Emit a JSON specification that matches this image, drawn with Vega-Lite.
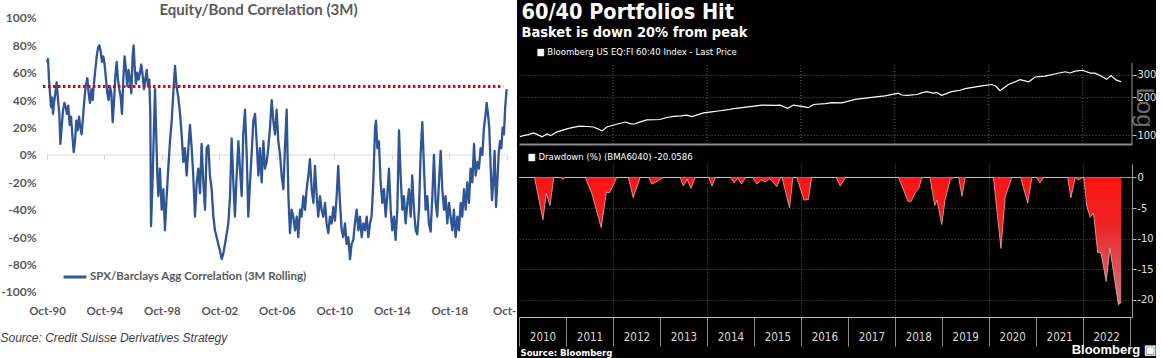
{
  "$schema": "https://vega.github.io/schema/vega-lite/v6.json",
  "background": "black",
  "padding": 0,
  "spacing": 0,
  "title": {"text": "Bloomberg ▣", "orient": "bottom", "anchor": "end", "offset": -14, "font": "Liberation Sans", "fontSize": 13, "fontWeight": "bold", "color": "white"},
  "config": {"view": {"stroke": null}, "axis": {"labelFlush": false, "labelOverlap": false}},
  "resolve": {"scale": {"color": "independent"}, "legend": {"color": "independent"}},
  "hconcat": [
    {
      "width": 517,
      "height": 358,
      "view": {"fill": "white", "stroke": null},
      "title": {"text": "Equity/Bond Correlation (3M)", "anchor": "middle", "offset": -18, "font": "Lato", "fontSize": 15, "fontWeight": "bold", "color": "#595959"},
      "resolve": {"axis": {"x": "independent", "y": "independent"}},
      "layer": [
        {
          "data": {"values": [{}]},
          "mark": {"type": "rule", "color": "#d9d9d9", "strokeWidth": 1},
          "encoding": {
            "x": {"datum": 1990.75, "type": "quantitative", "scale": {"domain": [1987.48, 2023.46], "nice": false, "zero": false},
              "axis": {"orient": "bottom", "offset": -203, "values": [1990.75, 1994.75, 1998.75, 2002.75, 2006.75, 2010.75, 2014.75, 2018.75, 2022.75], "domain": false, "ticks": true, "tickSize": 4, "tickColor": "#d0d0d0", "labels": false, "grid": false, "title": null}},
            "x2": {"datum": 2022.75},
            "y": {"datum": 0, "type": "quantitative", "scale": {"domain": [-1.482, 1.131], "nice": false, "zero": false},
              "axis": {"orient": "left", "offset": -40, "values": [-0.8, -0.4, 0, 0.4, 0.8], "domain": false, "ticks": false, "grid": false, "labelOverlap": false, "labelExpr": "toString(round(datum.value*100)) + '%'", "labelFont": "Lato", "labelFontSize": 12, "labelFontWeight": "bold", "labelColor": "#595959", "labelPadding": 4, "title": null}}
          }
        },
        {
          "data": {"values": [
            {"t":1990.75,"v":0.68},{"t":1990.82,"v":0.70},{"t":1990.89,"v":0.55},{"t":1990.96,"v":0.45},{"t":1991.03,"v":0.35},{"t":1991.10,"v":0.42},{"t":1991.17,"v":0.30},{"t":1991.24,"v":0.38},{"t":1991.33,"v":0.45},{"t":1991.42,"v":0.53},
            {"t":1991.52,"v":0.40},{"t":1991.61,"v":0.30},{"t":1991.68,"v":0.08},{"t":1991.77,"v":0.20},{"t":1991.86,"v":0.32},{"t":1991.96,"v":0.38},{"t":1992.05,"v":0.35},{"t":1992.14,"v":0.30},{"t":1992.23,"v":0.36},{"t":1992.33,"v":0.22},
            {"t":1992.42,"v":0.28},{"t":1992.51,"v":0.15},{"t":1992.61,"v":0.02},{"t":1992.70,"v":0.10},{"t":1992.79,"v":0.25},{"t":1992.88,"v":0.18},{"t":1992.98,"v":0.28},{"t":1993.07,"v":0.20},{"t":1993.16,"v":0.15},{"t":1993.26,"v":0.28},
            {"t":1993.35,"v":0.40},{"t":1993.44,"v":0.50},{"t":1993.56,"v":0.56},{"t":1993.65,"v":0.45},{"t":1993.74,"v":0.38},{"t":1993.84,"v":0.48},{"t":1993.93,"v":0.40},{"t":1994.02,"v":0.52},{"t":1994.11,"v":0.62},{"t":1994.21,"v":0.72},
            {"t":1994.30,"v":0.78},{"t":1994.39,"v":0.80},{"t":1994.48,"v":0.76},{"t":1994.58,"v":0.68},{"t":1994.67,"v":0.72},{"t":1994.76,"v":0.66},{"t":1994.86,"v":0.55},{"t":1994.95,"v":0.45},{"t":1995.04,"v":0.40},{"t":1995.13,"v":0.50},
            {"t":1995.23,"v":0.45},{"t":1995.32,"v":0.24},{"t":1995.41,"v":0.38},{"t":1995.51,"v":0.58},{"t":1995.60,"v":0.68},{"t":1995.69,"v":0.55},{"t":1995.78,"v":0.48},{"t":1995.88,"v":0.42},{"t":1995.97,"v":0.30},{"t":1996.06,"v":0.55},
            {"t":1996.15,"v":0.72},{"t":1996.25,"v":0.62},{"t":1996.34,"v":0.50},{"t":1996.43,"v":0.62},{"t":1996.53,"v":0.55},{"t":1996.62,"v":0.45},{"t":1996.71,"v":0.72},{"t":1996.78,"v":0.80},{"t":1996.85,"v":0.65},{"t":1996.94,"v":0.52},
            {"t":1997.04,"v":0.60},{"t":1997.13,"v":0.55},{"t":1997.22,"v":0.60},{"t":1997.31,"v":0.66},{"t":1997.41,"v":0.58},{"t":1997.50,"v":0.48},{"t":1997.59,"v":0.55},{"t":1997.69,"v":0.62},{"t":1997.78,"v":0.50},{"t":1997.87,"v":0.55},
            {"t":1997.94,"v":0.30},{"t":1997.99,"v":-0.52},{"t":1998.08,"v":-0.25},{"t":1998.17,"v":0.10},{"t":1998.27,"v":0.48},{"t":1998.34,"v":0.20},{"t":1998.43,"v":-0.15},{"t":1998.50,"v":-0.30},{"t":1998.61,"v":-0.10},{"t":1998.73,"v":-0.40},
            {"t":1998.85,"v":-0.25},{"t":1998.96,"v":-0.55},{"t":1999.08,"v":-0.30},{"t":1999.19,"v":-0.10},{"t":1999.31,"v":0.10},{"t":1999.43,"v":0.25},{"t":1999.54,"v":0.45},{"t":1999.66,"v":0.65},{"t":1999.77,"v":0.50},{"t":1999.89,"v":0.42},
            {"t":2000.01,"v":0.30},{"t":2000.12,"v":0.15},{"t":2000.24,"v":-0.05},{"t":2000.35,"v":0.05},{"t":2000.47,"v":-0.15},{"t":2000.59,"v":0.05},{"t":2000.70,"v":0.22},{"t":2000.82,"v":0.05},{"t":2000.93,"v":-0.15},{"t":2001.05,"v":-0.45},
            {"t":2001.17,"v":-0.20},{"t":2001.28,"v":-0.10},{"t":2001.40,"v":-0.28},{"t":2001.51,"v":0.08},{"t":2001.63,"v":-0.20},{"t":2001.75,"v":-0.40},{"t":2001.86,"v":0.05},{"t":2001.98,"v":0.07},{"t":2002.09,"v":-0.15},{"t":2002.21,"v":-0.25},
            {"t":2002.33,"v":-0.45},{"t":2002.44,"v":-0.55},{"t":2002.56,"v":-0.60},{"t":2002.67,"v":-0.65},{"t":2002.79,"v":-0.70},{"t":2002.91,"v":-0.76},{"t":2003.02,"v":-0.72},{"t":2003.14,"v":-0.65},{"t":2003.25,"v":-0.58},{"t":2003.37,"v":-0.50},
            {"t":2003.49,"v":-0.30},{"t":2003.60,"v":0.12},{"t":2003.72,"v":-0.20},{"t":2003.83,"v":-0.45},{"t":2003.95,"v":-0.15},{"t":2004.07,"v":0.10},{"t":2004.18,"v":-0.10},{"t":2004.30,"v":-0.30},{"t":2004.41,"v":0.15},{"t":2004.53,"v":0.33},
            {"t":2004.65,"v":0.00},{"t":2004.76,"v":-0.45},{"t":2004.88,"v":-0.20},{"t":2004.99,"v":0.00},{"t":2005.11,"v":0.25},{"t":2005.23,"v":0.30},{"t":2005.34,"v":0.10},{"t":2005.46,"v":-0.15},{"t":2005.57,"v":0.05},{"t":2005.69,"v":-0.20},
            {"t":2005.81,"v":0.10},{"t":2005.92,"v":-0.10},{"t":2006.04,"v":-0.05},{"t":2006.15,"v":0.05},{"t":2006.27,"v":0.20},{"t":2006.39,"v":0.40},{"t":2006.50,"v":0.25},{"t":2006.62,"v":0.15},{"t":2006.73,"v":0.33},{"t":2006.85,"v":0.10},
            {"t":2006.97,"v":0.00},{"t":2007.08,"v":-0.15},{"t":2007.20,"v":-0.25},{"t":2007.31,"v":0.05},{"t":2007.43,"v":0.33},{"t":2007.55,"v":-0.30},{"t":2007.66,"v":-0.57},{"t":2007.78,"v":-0.40},{"t":2007.89,"v":-0.45},{"t":2008.01,"v":-0.55},
            {"t":2008.13,"v":-0.45},{"t":2008.24,"v":-0.60},{"t":2008.36,"v":-0.40},{"t":2008.47,"v":-0.45},{"t":2008.59,"v":-0.30},{"t":2008.71,"v":-0.40},{"t":2008.82,"v":-0.25},{"t":2008.94,"v":-0.15},{"t":2009.05,"v":-0.03},{"t":2009.17,"v":-0.25},
            {"t":2009.29,"v":-0.35},{"t":2009.40,"v":-0.08},{"t":2009.52,"v":-0.30},{"t":2009.63,"v":-0.45},{"t":2009.75,"v":-0.30},{"t":2009.86,"v":-0.40},{"t":2009.98,"v":-0.45},{"t":2010.10,"v":-0.35},{"t":2010.21,"v":-0.50},{"t":2010.33,"v":-0.57},
            {"t":2010.44,"v":-0.45},{"t":2010.56,"v":-0.50},{"t":2010.68,"v":-0.38},{"t":2010.79,"v":-0.48},{"t":2010.91,"v":-0.30},{"t":2011.02,"v":-0.08},{"t":2011.14,"v":-0.35},{"t":2011.26,"v":-0.55},{"t":2011.37,"v":-0.60},{"t":2011.49,"v":-0.50},
            {"t":2011.60,"v":-0.65},{"t":2011.72,"v":-0.60},{"t":2011.84,"v":-0.76},{"t":2011.95,"v":-0.65},{"t":2012.07,"v":-0.62},{"t":2012.18,"v":-0.50},{"t":2012.30,"v":-0.40},{"t":2012.42,"v":-0.55},{"t":2012.53,"v":-0.45},{"t":2012.65,"v":-0.60},
            {"t":2012.76,"v":-0.50},{"t":2012.88,"v":-0.55},{"t":2013.00,"v":-0.45},{"t":2013.11,"v":-0.60},{"t":2013.23,"v":-0.50},{"t":2013.34,"v":-0.45},{"t":2013.46,"v":-0.20},{"t":2013.58,"v":0.20},{"t":2013.65,"v":0.25},{"t":2013.74,"v":0.05},
            {"t":2013.85,"v":0.10},{"t":2013.97,"v":-0.20},{"t":2014.09,"v":-0.35},{"t":2014.20,"v":-0.25},{"t":2014.32,"v":-0.45},{"t":2014.43,"v":-0.30},{"t":2014.55,"v":-0.10},{"t":2014.67,"v":-0.40},{"t":2014.78,"v":-0.55},{"t":2014.90,"v":-0.45},
            {"t":2015.01,"v":-0.62},{"t":2015.13,"v":-0.40},{"t":2015.25,"v":0.18},{"t":2015.36,"v":-0.15},{"t":2015.48,"v":-0.40},{"t":2015.59,"v":-0.30},{"t":2015.71,"v":-0.50},{"t":2015.83,"v":-0.35},{"t":2015.94,"v":-0.25},{"t":2016.06,"v":-0.45},
            {"t":2016.17,"v":-0.15},{"t":2016.29,"v":-0.40},{"t":2016.41,"v":-0.55},{"t":2016.52,"v":-0.58},{"t":2016.64,"v":-0.40},{"t":2016.75,"v":0.00},{"t":2016.87,"v":0.24},{"t":2016.99,"v":-0.10},{"t":2017.10,"v":-0.40},{"t":2017.22,"v":-0.30},
            {"t":2017.33,"v":-0.50},{"t":2017.45,"v":-0.56},{"t":2017.57,"v":-0.30},{"t":2017.68,"v":0.00},{"t":2017.80,"v":-0.35},{"t":2017.91,"v":-0.45},{"t":2018.03,"v":-0.20},{"t":2018.15,"v":0.03},{"t":2018.26,"v":-0.25},{"t":2018.38,"v":-0.40},
            {"t":2018.49,"v":-0.30},{"t":2018.61,"v":-0.50},{"t":2018.73,"v":-0.35},{"t":2018.84,"v":-0.45},{"t":2018.96,"v":-0.55},{"t":2019.07,"v":-0.40},{"t":2019.19,"v":-0.60},{"t":2019.31,"v":-0.45},{"t":2019.42,"v":-0.55},{"t":2019.54,"v":-0.35},
            {"t":2019.65,"v":-0.45},{"t":2019.77,"v":-0.25},{"t":2019.89,"v":-0.40},{"t":2020.00,"v":-0.20},{"t":2020.12,"v":-0.35},{"t":2020.23,"v":-0.10},{"t":2020.35,"v":-0.20},{"t":2020.47,"v":0.08},{"t":2020.58,"v":-0.15},{"t":2020.70,"v":-0.05},
            {"t":2020.81,"v":-0.10},{"t":2020.93,"v":0.05},{"t":2021.05,"v":0.00},{"t":2021.16,"v":0.20},{"t":2021.28,"v":0.30},{"t":2021.35,"v":0.38},{"t":2021.44,"v":0.30},{"t":2021.53,"v":0.20},{"t":2021.63,"v":-0.10},{"t":2021.72,"v":-0.33},
            {"t":2021.81,"v":-0.20},{"t":2021.90,"v":0.03},{"t":2022.00,"v":-0.38},{"t":2022.09,"v":-0.20},{"t":2022.18,"v":0.00},{"t":2022.27,"v":0.10},{"t":2022.37,"v":0.05},{"t":2022.46,"v":0.20},{"t":2022.55,"v":0.15},{"t":2022.64,"v":0.35},
            {"t":2022.74,"v":0.48}
          ]},
          "mark": {"type": "line", "strokeWidth": 2.3, "strokeJoin": "round"},
          "encoding": {
            "x": {"field": "t", "type": "quantitative", "scale": {"domain": [1987.48, 2023.46], "nice": false, "zero": false},
              "axis": {"orient": "bottom", "offset": -58, "values": [1990.75, 1994.75, 1998.75, 2002.75, 2006.75, 2010.75, 2014.75, 2018.75, 2022.75], "domain": false, "ticks": false, "grid": false, "labelOverlap": false, "labelFlush": false,
                "labelExpr": "datum.value > 2022 ? 'Oct-' : 'Oct-' + slice(toString(floor(datum.value)), 2)",
                "labelAlign": {"condition": {"test": "datum.value > 2022", "value": "right"}, "value": "center"},
                "labelOffset": {"condition": {"test": "datum.value > 2022", "value": 9}, "value": 0},
                "labelFont": "Lato", "labelFontSize": 11.5, "labelFontWeight": "bold", "labelColor": "#595959", "labelPadding": 5,
                "title": "Source: Credit Suisse Derivatives Strategy", "titleFont": "Liberation Sans", "titleFontStyle": "italic", "titleFontWeight": "normal", "titleFontSize": 12, "titleColor": "#404040", "titleAnchor": "start", "titleAlign": "left", "titleX": 0, "titleY": 41, "titleBaseline": "alphabetic"}},
            "y": {"field": "v", "type": "quantitative", "scale": {"domain": [-1.482, 1.131], "nice": false, "zero": false},
              "axis": {"orient": "left", "offset": -40, "values": [-1, -0.6, -0.2, 0.2, 0.6, 1], "domain": false, "ticks": false, "grid": false, "labelOverlap": false, "labelExpr": "toString(round(datum.value*100)) + '%'", "labelFont": "Lato", "labelFontSize": 12, "labelFontWeight": "bold", "labelColor": "#595959", "labelPadding": 4, "title": null}},
            "color": {"datum": "SPX/Barclays Agg Correlation (3M Rolling)", "type": "nominal", "scale": {"range": ["#2F5597"]},
              "legend": {"orient": "none", "legendX": 62, "legendY": 264, "title": null, "symbolType": "stroke", "symbolStrokeWidth": 3, "symbolSize": 520, "labelFont": "Lato", "labelFontSize": 11.5, "labelFontWeight": "bold", "labelColor": "#595959", "labelOffset": 2, "labelLimit": 400, "padding": 0}}
          }
        },
        {
          "data": {"values": [{}]},
          "mark": {"type": "rule", "color": "#e30000", "strokeWidth": 3, "strokeDash": [2.5, 2.5]},
          "encoding": {
            "x": {"datum": 1990.47, "type": "quantitative", "scale": {"domain": [1987.48, 2023.46], "nice": false, "zero": false}, "axis": null},
            "x2": {"datum": 2022.5},
            "y": {"datum": 0.5, "type": "quantitative", "scale": {"domain": [-1.482, 1.131], "nice": false, "zero": false}, "axis": null}
          }
        }
      ]
    },
    {
      "spacing": 6,
      "vconcat": [
        {
          "width": 613,
          "height": 144,
          "title": {"text": "60/40 Portfolios Hit", "subtitle": "Basket is down 20% from peak", "anchor": "start", "dx": 4, "offset": -39, "font": "DejaVu Sans Condensed", "fontSize": 21.5, "fontWeight": "bold", "color": "white", "subtitleFont": "DejaVu Sans Condensed", "subtitleFontSize": 14.5, "subtitleFontWeight": "bold", "subtitleColor": "white", "subtitlePadding": 2},
          "layer": [
            {
              "data": {"values": [{"t": 2012}, {"t": 2014}, {"t": 2016}, {"t": 2018}, {"t": 2020}, {"t": 2022}]},
              "mark": {"type": "rule", "color": "#5c5c5c", "strokeWidth": 1, "strokeDash": [1, 2]},
              "encoding": {
                "x": {"field": "t", "type": "quantitative", "scale": {"domain": [2010, 2023.05], "nice": false, "zero": false}},
                "y": {"datum": 85, "type": "quantitative", "scale": {"type": "log", "domain": [85, 1180], "nice": false}},
                "y2": {"datum": 373}
              }
            },
            {
              "data": {"values": [{}]},
              "mark": {"type": "rule", "color": "#9a9a9a", "strokeWidth": 1},
              "encoding": {
                "x": {"datum": 2023.05, "type": "quantitative", "scale": {"domain": [2010, 2023.05], "nice": false, "zero": false}},
                "y": {"datum": 85, "type": "quantitative", "scale": {"type": "log", "domain": [85, 1180], "nice": false}},
                "y2": {"datum": 373}
              }
            },
            {
              "data": {"values": [
                {"t":2010.02,"p":97},{"t":2010.09,"p":99},{"t":2010.2,"p":101},{"t":2010.31,"p":104},{"t":2010.42,"p":100},{"t":2010.49,"p":97},{"t":2010.6,"p":102},{"t":2010.67,"p":99},{"t":2010.81,"p":106},{"t":2011.02,"p":112},
                {"t":2011.15,"p":115},{"t":2011.3,"p":118},{"t":2011.45,"p":117},{"t":2011.59,"p":116},{"t":2011.77,"p":108},{"t":2011.87,"p":116},{"t":2012.08,"p":122},{"t":2012.26,"p":127},{"t":2012.35,"p":124},{"t":2012.44,"p":122},
                {"t":2012.6,"p":128},{"t":2012.72,"p":132},{"t":2013.0,"p":133},{"t":2013.15,"p":138},{"t":2013.29,"p":141},{"t":2013.45,"p":142},{"t":2013.57,"p":144},{"t":2013.68,"p":140},{"t":2013.93,"p":150},{"t":2014.1,"p":153},
                {"t":2014.28,"p":156},{"t":2014.45,"p":159},{"t":2014.57,"p":162},{"t":2014.75,"p":165},{"t":2014.92,"p":168},{"t":2015.17,"p":173},{"t":2015.45,"p":172},{"t":2015.56,"p":173},{"t":2015.72,"p":163},{"t":2015.84,"p":173},
                {"t":2015.99,"p":170},{"t":2016.16,"p":165},{"t":2016.27,"p":175},{"t":2016.52,"p":178},{"t":2016.66,"p":181},{"t":2016.87,"p":180},{"t":2017.16,"p":192},{"t":2017.51,"p":199},{"t":2017.79,"p":205},{"t":2018.08,"p":215},
                {"t":2018.15,"p":208},{"t":2018.26,"p":207},{"t":2018.47,"p":210},{"t":2018.57,"p":216},{"t":2018.68,"p":221},{"t":2018.82,"p":215},{"t":2018.9,"p":217},{"t":2019.0,"p":207},{"t":2019.21,"p":221},{"t":2019.39,"p":227},
                {"t":2019.5,"p":234},{"t":2019.85,"p":246},{"t":2020.06,"p":252},{"t":2020.15,"p":245},{"t":2020.24,"p":225},{"t":2020.42,"p":252},{"t":2020.67,"p":275},{"t":2020.85,"p":265},{"t":2020.99,"p":289},{"t":2021.2,"p":294},
                {"t":2021.45,"p":308},{"t":2021.63,"p":318},{"t":2021.73,"p":311},{"t":2021.84,"p":322},{"t":2022.0,"p":327},{"t":2022.16,"p":310},{"t":2022.26,"p":310},{"t":2022.39,"p":294},{"t":2022.51,"p":277},{"t":2022.6,"p":297},
                {"t":2022.72,"p":273},{"t":2022.82,"p":265}
              ]},
              "mark": {"type": "line", "strokeWidth": 1.2},
              "encoding": {
                "x": {"field": "t", "type": "quantitative", "scale": {"domain": [2010, 2023.05], "nice": false, "zero": false},
                  "axis": {"orient": "bottom", "labels": false, "ticks": false, "domain": true, "domainColor": "#8c8c8c", "domainWidth": 2, "grid": false, "title": null}},
                "y": {"field": "p", "type": "quantitative", "scale": {"type": "log", "domain": [85, 1180], "nice": false},
                  "axis": {"orient": "right", "values": [100, 200, 300], "format": "d", "domain": false, "grid": true, "gridColor": "#5c5c5c", "gridDash": [1, 2], "tickColor": "#bbbbbb", "tickSize": 4, "labelColor": "#e0e0e0", "labelFont": "DejaVu Sans Condensed", "labelFontSize": 11, "labelPadding": 1,
                    "title": "Log", "titleColor": "#6a6a6a", "titleFont": "Liberation Sans", "titleFontSize": 24, "titleFontWeight": "normal", "titleAngle": 90, "titleX": 11, "titleY": 107, "titleAlign": "center", "titleBaseline": "middle"}},
                "color": {"datum": "■ Bloomberg US EQ:FI 60:40 Index - Last Price", "type": "nominal", "scale": {"range": ["white"]},
                  "legend": {"orient": "none", "legendX": 8, "legendY": 47, "title": null, "symbolOpacity": 0, "symbolSize": 0, "labelOffset": 0, "labelFont": "DejaVu Sans Condensed", "labelFontSize": 9.5, "labelColor": "white", "labelLimit": 400, "padding": 0}}
              }
            }
          ]
        },
        {
          "width": 613,
          "height": 153,
          "title": {"text": "■ Drawdown (%) (BMA6040) -20.0586", "anchor": "start", "dx": 10, "offset": 3, "font": "DejaVu Sans Condensed", "fontSize": 9.5, "fontWeight": "normal", "color": "white"},
          "data": {"values": [
            {"t":2010.0,"d":0},{"t":2010.33,"d":0},{"t":2010.51,"d":-6.9},{"t":2010.58,"d":-2.6},{"t":2010.66,"d":-4.6},{"t":2010.74,"d":0},{"t":2010.88,"d":0},{"t":2010.93,"d":-0.3},{"t":2010.98,"d":0},
            {"t":2011.41,"d":0},{"t":2011.55,"d":-2.6},{"t":2011.75,"d":-8.2},{"t":2011.86,"d":-2.4},{"t":2011.93,"d":-2.5},{"t":2012.08,"d":0},{"t":2012.33,"d":0},{"t":2012.43,"d":-3.3},{"t":2012.58,"d":0},
            {"t":2012.76,"d":0},{"t":2012.83,"d":-1.1},{"t":2013.08,"d":0},{"t":2013.43,"d":0},{"t":2013.5,"d":-1.4},{"t":2013.58,"d":-0.3},{"t":2013.66,"d":-1.8},{"t":2013.75,"d":0},
            {"t":2014.04,"d":0},{"t":2014.11,"d":-1.4},{"t":2014.18,"d":0},{"t":2014.5,"d":0},{"t":2014.58,"d":-0.9},{"t":2014.66,"d":-0.1},{"t":2014.74,"d":-1.1},{"t":2014.82,"d":0},
            {"t":2014.98,"d":0},{"t":2015.06,"d":-1.1},{"t":2015.16,"d":-0.4},{"t":2015.24,"d":-0.7},{"t":2015.34,"d":-0.2},{"t":2015.49,"d":-1.5},{"t":2015.57,"d":0},{"t":2015.6,"d":0},{"t":2015.76,"d":-5.0},{"t":2015.83,"d":0},
            {"t":2015.91,"d":0},{"t":2016.07,"d":-3.7},{"t":2016.16,"d":-3.6},{"t":2016.23,"d":0},{"t":2016.75,"d":0},{"t":2016.84,"d":-1.4},{"t":2016.95,"d":0},
            {"t":2018.08,"d":0},{"t":2018.19,"d":-2.1},{"t":2018.28,"d":-3.9},{"t":2018.35,"d":-3.9},{"t":2018.44,"d":-2.4},{"t":2018.51,"d":-1.8},{"t":2018.58,"d":0},
            {"t":2018.75,"d":0},{"t":2018.85,"d":-4.6},{"t":2018.9,"d":-3.7},{"t":2019.0,"d":-7.7},{"t":2019.07,"d":-3.7},{"t":2019.18,"d":-0.4},{"t":2019.25,"d":0},
            {"t":2019.36,"d":0},{"t":2019.43,"d":-3.1},{"t":2019.5,"d":0},{"t":2020.1,"d":0},{"t":2020.26,"d":-11.6},{"t":2020.35,"d":-3.2},{"t":2020.49,"d":0},
            {"t":2020.68,"d":0},{"t":2020.83,"d":-4.2},{"t":2020.92,"d":0},{"t":2021.02,"d":0},{"t":2021.09,"d":-0.9},{"t":2021.17,"d":0},
            {"t":2021.68,"d":0},{"t":2021.75,"d":-3.3},{"t":2021.84,"d":0},{"t":2021.91,"d":-0.4},{"t":2021.98,"d":-0.1},{"t":2022.02,"d":0},
            {"t":2022.09,"d":-4.8},{"t":2022.16,"d":-6.5},{"t":2022.23,"d":-5.8},{"t":2022.32,"d":-12.3},{"t":2022.39,"d":-12.3},{"t":2022.5,"d":-17.0},{"t":2022.58,"d":-11.6},{"t":2022.76,"d":-20.8},{"t":2022.82,"d":-20.4}
          ]},
          "mark": {"type": "area", "opacity": 1, "fillOpacity": 1, "color": {"x1": 0, "y1": 0, "x2": 0, "y2": 1, "gradient": "linear", "stops": [{"offset": 0, "color": "#ff1414"}, {"offset": 0.35, "color": "#ee2222"}, {"offset": 1, "color": "#c87a84"}]}, "line": {"color": "#f2c4c4", "strokeWidth": 0.7}},
          "encoding": {
            "x": {"field": "t", "type": "quantitative", "scale": {"domain": [2010, 2023.05], "nice": false, "zero": false},
              "axis": {"orient": "bottom", "values": [2010, 2011, 2012, 2013, 2014, 2015, 2016, 2017, 2018, 2019, 2020, 2021, 2022, 2023], "tickSize": 29, "tickColor": "#8a8a8a", "domainColor": "#bdbdbd", "labelExpr": "datum.value < 2023 ? toString(datum.value) : ''", "labelOffset": 23.5, "labelPadding": -15, "labelColor": "#d8d8d8", "labelFont": "DejaVu Sans Condensed", "labelFontSize": 11.5, "labelOverlap": false, "labelFlush": false,
                "grid": true, "gridColor": {"condition": {"test": "datum.value % 2 == 0 && datum.value > 2010 && datum.value < 2023", "value": "#5c5c5c"}, "value": "transparent"}, "gridDash": [1, 2],
                "title": "Source: Bloomberg", "titleAnchor": "start", "titleAlign": "left", "titleX": 1, "titleY": 38, "titleBaseline": "alphabetic", "titleColor": "white", "titleFont": "DejaVu Sans Condensed", "titleFontSize": 9.5, "titleFontWeight": "bold"}},
            "y": {"field": "d", "type": "quantitative", "scale": {"domain": [-22.8, 2.2], "nice": false, "zero": false},
              "axis": {"orient": "right", "values": [0, -5, -10, -15, -20], "labelExpr": "toString(datum.value)", "grid": true,
                "gridColor": {"condition": {"test": "datum.value == 0", "value": "#9a9a9a"}, "value": "#555555"}, "gridDash": {"condition": {"test": "datum.value == 0", "value": []}, "value": [1, 2]},
                "domainColor": "#9a9a9a", "tickColor": "#bbbbbb", "tickSize": 4, "labelColor": "#e0e0e0", "labelFont": "DejaVu Sans Condensed", "labelFontSize": 11, "labelPadding": 1, "title": null}},
            "y2": {"datum": 0}
          }
        }
      ]
    }
  ]
}
